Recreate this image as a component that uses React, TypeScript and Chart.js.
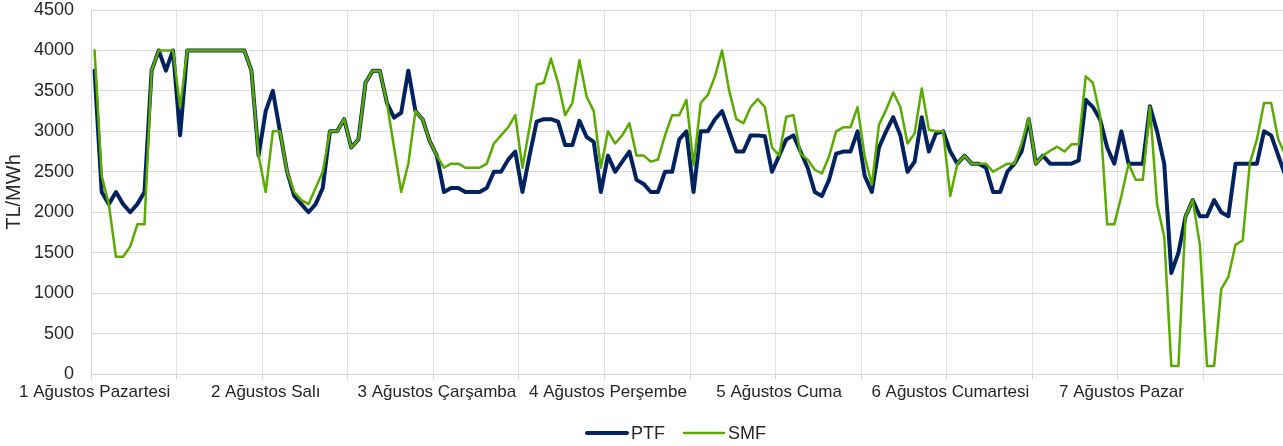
import React, { useEffect, useRef } from 'react';
import { Chart, registerables } from 'chart.js';

Chart.register(...registerables);

const days = [
  '1 Ağustos Pazartesi',
  '2 Ağustos Salı',
  '3 Ağustos Çarşamba',
  '4 Ağustos Perşembe',
  '5 Ağustos Cuma',
  '6 Ağustos Cumartesi',
  '7 Ağustos Pazar',
];
const hours = [
  '00:00', '01:00', '02:00', '03:00', '04:00', '05:00', '06:00', '07:00',
  '08:00', '09:00', '10:00', '11:00', '12:00', '13:00', '14:00', '15:00',
  '16:00', '17:00', '18:00', '19:00', '20:00', '21:00', '22:00', '23:00',
];
const yTickValues = [0, 500, 1000, 1500, 2000, 2500, 3000, 3500, 4000, 4500];

const ptf = [
  // 1 Ağustos
  3750, 2250, 2100, 2250, 2100, 2000, 2100, 2250, 3750, 4000, 3750, 4000,
  2950, 4000, 4000, 4000, 4000, 4000, 4000, 4000, 4000, 4000, 3750, 2700,
  // 2 Ağustos
  3250, 3500, 3000, 2500, 2200, 2100, 2000, 2100, 2300, 3000, 3000, 3150,
  2800, 2900, 3600, 3750, 3750, 3350, 3170, 3230, 3750, 3250, 3150, 2880,
  // 3 Ağustos
  2700, 2250, 2300, 2300, 2250, 2250, 2250, 2300, 2500, 2500, 2650, 2750,
  2250, 2700, 3120, 3150, 3150, 3120, 2830, 2830, 3130, 2930, 2870, 2250,
  // 4 Ağustos
  2700, 2500, 2625, 2750, 2400, 2350, 2250, 2250, 2500, 2500, 2900, 3000,
  2250, 3000, 3000, 3150, 3250, 3000, 2750, 2750, 2950, 2950, 2940, 2500,
  // 5 Ağustos
  2700, 2900, 2950, 2750, 2550, 2250, 2200, 2400, 2725, 2750, 2750, 3000,
  2450, 2250, 2800, 3000, 3175, 2950, 2500, 2625, 3175, 2750, 2975, 3000,
  // 6 Ağustos
  2750, 2600, 2700, 2600, 2600, 2550, 2250, 2250, 2500, 2600, 2750, 3150,
  2600, 2700, 2600, 2600, 2600, 2600, 2640, 3390, 3300, 3150, 2800, 2600,
  // 7 Ağustos
  3000, 2600, 2600, 2600, 3310, 3000, 2600, 1250, 1500, 1950, 2150, 1950,
  1950, 2150, 2000, 1950, 2600, 2600, 2600, 2600, 3000, 2950, 2700, 2450,
];

const smf = [
  // 1 Ağustos
  4000, 2450, 2100, 1450, 1450, 1575, 1850, 1850, 3750, 4000, 4000, 4000,
  3300, 4000, 4000, 4000, 4000, 4000, 4000, 4000, 4000, 4000, 3750, 2700,
  // 2 Ağustos
  2250, 3000, 3000, 2500, 2250, 2150, 2100, 2300, 2500, 3000, 3000, 3150,
  2800, 2900, 3600, 3750, 3750, 3350, 2800, 2250, 2600, 3250, 3150, 2880,
  // 3 Ağustos
  2700, 2550, 2600, 2600, 2550, 2550, 2550, 2600, 2850, 2950, 3050, 3200,
  2550, 3050, 3575, 3600, 3900, 3600, 3200, 3350, 3880, 3430, 3250, 2550,
  // 4 Ağustos
  3000, 2850, 2950, 3100, 2700, 2700, 2625, 2650, 2950, 3200, 3200, 3390,
  2580, 3350, 3450, 3680, 4000, 3500, 3150, 3100, 3300, 3400, 3300, 2800,
  // 5 Ağustos
  2700, 3180, 3200, 2725, 2650, 2525, 2480, 2690, 3000, 3050, 3050, 3300,
  2690, 2340, 3080, 3265, 3480, 3300, 2850, 2975, 3530, 3020, 3000, 3000,
  // 6 Ağustos
  2200, 2600, 2700, 2600, 2600, 2600, 2500, 2550, 2600, 2600, 2850, 3160,
  2600, 2700, 2760, 2810, 2750, 2840, 2840, 3680, 3600, 3200, 1850, 1850,
  // 7 Ağustos
  2200, 2600, 2400, 2400, 3300, 2100, 1700, 100, 100, 1950, 2150, 1600,
  100, 100, 1050, 1200, 1600, 1650, 2600, 2900, 3350, 3350, 2900, 2700,
];

const PTF_COLOR = '#022260';
const SMF_COLOR = '#5aab00';
const TEXT_COLOR = '#262626';
const FONT_FAMILY = '"Liberation Sans", Arial, sans-serif';

const categories = days.flatMap((d) => hours.map((h) => `${d} ${h}`));

const legendItems = [
  { label: 'PTF', color: PTF_COLOR, width: 4 },
  { label: 'SMF', color: SMF_COLOR, width: 2.5 },
];

const refLegend = {
  id: 'refLegend',
  afterDraw(chart: any) {
    const ctx = chart.ctx as CanvasRenderingContext2D;
    ctx.save();
    ctx.font = `18px ${FONT_FAMILY}`;
    ctx.textBaseline = 'middle';
    ctx.textAlign = 'left';
    const lineLen = 42;
    const gapText = 3;
    const gapItem = 18;
    const widths = legendItems.map((it) => lineLen + gapText + ctx.measureText(it.label).width);
    const total = widths.reduce((a, b) => a + b, 0) + gapItem * (legendItems.length - 1);
    const centerX = 676;
    const y = 433;
    let x = centerX - total / 2;
    legendItems.forEach((it, i) => {
      ctx.beginPath();
      ctx.strokeStyle = it.color;
      ctx.lineWidth = it.width;
      ctx.lineCap = 'round';
      ctx.moveTo(x + 1, y);
      ctx.lineTo(x + lineLen - 1, y);
      ctx.stroke();
      ctx.fillStyle = TEXT_COLOR;
      ctx.fillText(it.label, x + lineLen + gapText, y + 1);
      x += widths[i] + gapItem;
    });
    ctx.restore();
  },
};

export default function App() {
  const ref = useRef<HTMLCanvasElement | null>(null);

  useEffect(() => {
    if (!ref.current) return;
    const chart = new Chart(ref.current, {
      type: 'line',
      data: {
        labels: categories,
        datasets: [
          {
            label: 'PTF',
            data: ptf,
            borderColor: PTF_COLOR,
            backgroundColor: PTF_COLOR,
            borderWidth: 4,
            pointRadius: 0,
            tension: 0,
            borderJoinStyle: 'round',
            borderCapStyle: 'round',
            order: 1,
          },
          {
            label: 'SMF',
            data: smf,
            borderColor: SMF_COLOR,
            backgroundColor: SMF_COLOR,
            borderWidth: 2.5,
            pointRadius: 0,
            tension: 0,
            borderJoinStyle: 'round',
            borderCapStyle: 'round',
            order: 0,
          },
        ],
      },
      options: {
        responsive: false,
        devicePixelRatio: 1,
        animation: false,
        layout: { padding: { left: 0, right: 3, top: 0, bottom: 40 } },
        plugins: {
          legend: { display: false },
          tooltip: { enabled: false },
        },
        scales: {
          x: {
            type: 'category',
            offset: true,
            afterFit: (scale: any) => {
              scale.height = 32;
            },
            grid: {
              offset: true,
              drawTicks: true,
              tickLength: 5,
              color: (c: any) => (c.index % 12 === 0 ? '#e2e2e2' : 'rgba(0,0,0,0)'),
              tickColor: (c: any) => (c.index % 12 === 0 ? '#d4d4d4' : 'rgba(0,0,0,0)'),
            },
            border: { display: true, color: '#d4d4d4' },
            ticks: {
              autoSkip: false,
              maxRotation: 0,
              minRotation: 0,
              padding: 3,
              color: TEXT_COLOR,
              font: { family: FONT_FAMILY, size: 17 },
              callback: (_v: any, index: number) =>
                index % 24 === 0 ? days[Math.floor(index / 24)] : '',
            },
          },
          y: {
            min: 0,
            max: 4500,
            afterFit: (scale: any) => {
              scale.width = 91;
              scale.paddingTop = 10;
              scale.paddingBottom = 10;
            },
            afterBuildTicks: (scale: any) => {
              scale.ticks = yTickValues.map((v) => ({ value: v }));
            },
            grid: { color: '#d9d9d9', drawTicks: false },
            border: { display: true, color: '#d4d4d4' },
            ticks: {
              padding: 17,
              color: TEXT_COLOR,
              font: { family: FONT_FAMILY, size: 18 },
              callback: (v: any) => String(v),
            },
            title: {
              display: true,
              text: 'TL/MWh',
              color: TEXT_COLOR,
              font: { family: FONT_FAMILY, size: 20 },
              padding: { top: 2, bottom: 0 },
            },
          },
        },
      },
      plugins: [refLegend],
    });
    return () => chart.destroy();
  }, []);

  return (
    <div
      style={{
        position: 'fixed',
        left: 0,
        top: 0,
        width: 1283,
        height: 446,
        overflow: 'hidden',
        background: '#ffffff',
      }}
    >
      <canvas
        ref={ref}
        width={1292}
        height={446}
        style={{ display: 'block', width: 1292, height: 446 }}
      />
    </div>
  );
}
